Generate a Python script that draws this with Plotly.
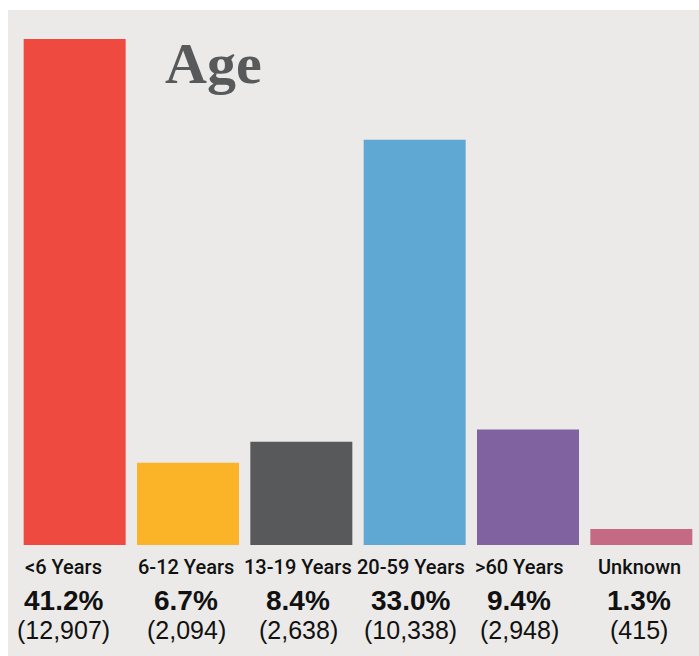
import plotly.graph_objects as go

categories = ["<6 Years", "6-12 Years", "13-19 Years", "20-59 Years", ">60 Years", "Unknown"]
percents = [41.2, 6.7, 8.4, 33.0, 9.4, 1.3]
counts = [12907, 2094, 2638, 10338, 2948, 415]

colors = ["#EF4A3F", "#FBB427", "#58595B", "#60A8D4", "#8162A1", "#C46A84"]
label_xshift = [-11, -2, -3, -4, -9, -2]  # layout: label block offsets in px

W, H = 699, 656
ml, mr, mt, mb = 18, 1, 10, 111
BG = "#EBEAE8"

fig = go.Figure(go.Bar(
    x=categories, y=percents, marker=dict(color=colors, line=dict(width=0)),
    hoverinfo="skip",
))

pw = W - ml - mr
ph = H - mt - mb

def py(pix):
    # pixel y (from top) -> paper fraction
    return (H - mb - pix) / ph

annotations = []
for c, p, n, dx in zip(categories, percents, counts, label_xshift):
    annotations.append(dict(x=c, xref="x", y=py(567), yref="paper", text=c, showarrow=False,
                            yanchor="middle", xanchor="center", xshift=dx,
                            font=dict(family="Roboto, Liberation Sans", size=20, color="#111111", weight=500)))
    annotations.append(dict(x=c, xref="x", y=py(600), yref="paper", text=f"<b>{p:.1f}%</b>", showarrow=False,
                            yanchor="middle", xanchor="center", xshift=dx,
                            font=dict(family="Liberation Sans, Arial", size=28, color="#111111")))
    annotations.append(dict(x=c, xref="x", y=py(630), yref="paper", text=f"({n:,})", showarrow=False,
                            yanchor="middle", xanchor="center", xshift=dx,
                            font=dict(family="Liberation Sans, Arial", size=25, color="#111111")))

annotations.append(dict(x=(213 - ml) / pw, xref="paper", y=py(64), yref="paper", text="<b>Age</b>",
                        showarrow=False, xanchor="center", yanchor="middle",
                        font=dict(family="Liberation Serif, DejaVu Serif", size=58, color="#58595B")))

fig.update_layout(
    width=W, height=H,
    margin=dict(l=ml, r=mr, t=mt, b=mb, pad=0),
    paper_bgcolor="white", plot_bgcolor=BG,
    bargap=0.1,
    showlegend=False,
    xaxis=dict(showticklabels=False, showgrid=False, zeroline=False, showline=False, ticks="",
               range=[-0.5, 5.5], fixedrange=True),
    yaxis=dict(showticklabels=False, showgrid=False, zeroline=False, showline=False, ticks="",
               range=[0, 43.57], fixedrange=True),
    annotations=annotations,
    shapes=[dict(type="rect", xref="paper", yref="paper", layer="below",
                 x0=(8 - ml) / pw, x1=(W + 2 - ml) / pw, y0=py(H + 2), y1=py(10),
                 fillcolor=BG, line=dict(width=0))],
)

fig.write_html("out.html", config={"displayModeBar": False})
